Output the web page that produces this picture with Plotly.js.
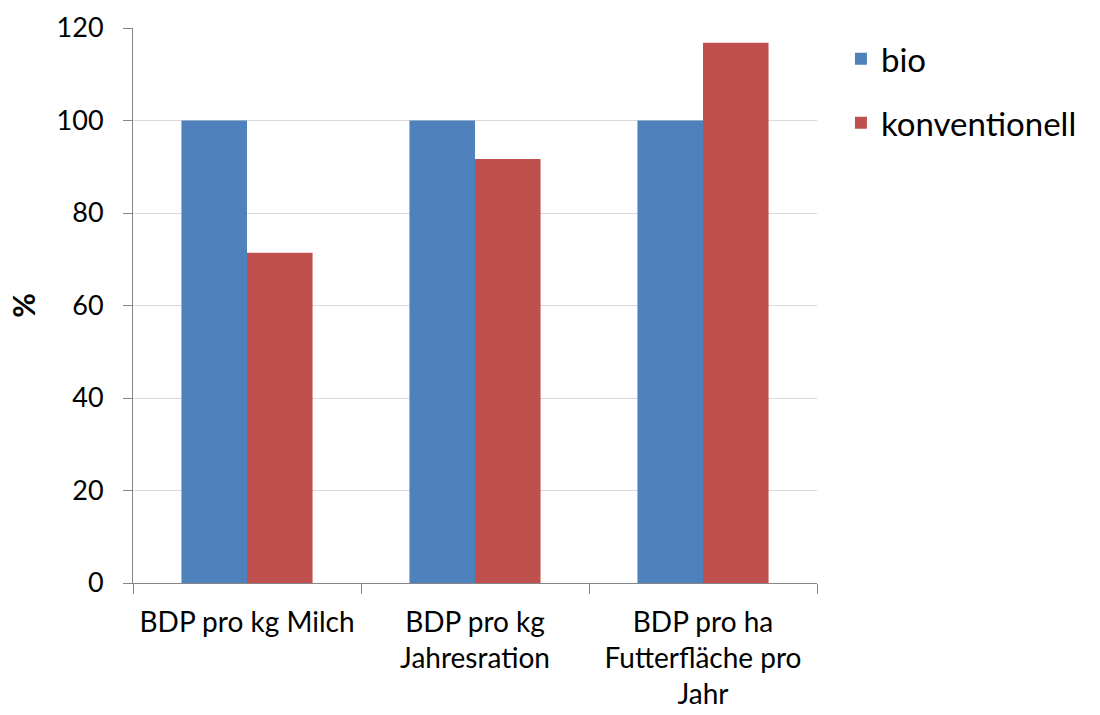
<!DOCTYPE html>
<html>
<head>
<meta charset="utf-8">
<script src="https://cdn.plot.ly/plotly-3.0.1.min.js"></script>
<style>html,body{margin:0;padding:0;background:#fff;}#chart{width:1100px;height:715px;}</style>
</head>
<body>
<div id="chart"></div>
<script>
const categories = ["BDP pro kg Milch", "BDP pro kg<br>Jahresration", "BDP pro ha<br>Futterfläche pro<br>Jahr"];
const seriesNames = ["bio", "konventionell"];
const bioValues = [100, 100, 100];
const konvValues = [71.4, 91.7, 116.8];
const yTicks = [0, 20, 40, 60, 80, 100, 120];

const FONT = "Lato, 'Open Sans', sans-serif";

const traces = [
  {type: "bar", name: seriesNames[0], x: categories, y: bioValues,
   marker: {color: "#4F81BD"}, legendgroup: "a", hoverinfo: "x+y"},
  {type: "bar", name: seriesNames[1], x: categories, y: konvValues,
   marker: {color: "#C0504D"}, legendgroup: "b", hoverinfo: "x+y"}
];

const layout = {
  width: 1100, height: 715,
  margin: {l: 133, r: 283, t: 28, b: 132},
  paper_bgcolor: "#fff", plot_bgcolor: "#fff",
  font: {family: FONT, size: 26, color: "#000"},
  barmode: "group",
  bargap: 0.425,
  bargroupgap: 0,
  showlegend: true,
  legend: {x: 1.035, xanchor: "left", y: 0.995, yanchor: "top",
           font: {family: FONT, size: 33, color: "#000"},
           traceorder: "grouped", tracegroupgap: 18,
           bgcolor: "rgba(0,0,0,0)"},
  xaxis: {
    type: "category",
    tickson: "boundaries",
    ticks: "outside", ticklen: 10, tickcolor: "#868686", tickwidth: 1,
    showline: true, linecolor: "#868686", linewidth: 1,
    showgrid: false, zeroline: false,
    ticklabelstandoff: 14,
    tickfont: {family: FONT, size: 28, color: "#000"},
    fixedrange: true
  },
  yaxis: {
    range: [0, 120],
    tickvals: yTicks,
    ticktext: yTicks.map(String),
    ticks: "outside", ticklen: 9, tickcolor: "#868686", tickwidth: 1,
    showline: true, linecolor: "#868686", linewidth: 1,
    showgrid: true, gridcolor: "#D9D9D9", gridwidth: 1,
    zeroline: false,
    ticklabelstandoff: 14,
    tickfont: {family: FONT, size: 27, color: "#000"},
    title: {text: "<b>%</b>", font: {family: FONT, size: 30, color: "#000"}, standoff: 12},
    fixedrange: true
  }
};

Plotly.newPlot("chart", traces, layout, {displayModeBar: false, staticPlot: true});
</script>
</body>
</html>
